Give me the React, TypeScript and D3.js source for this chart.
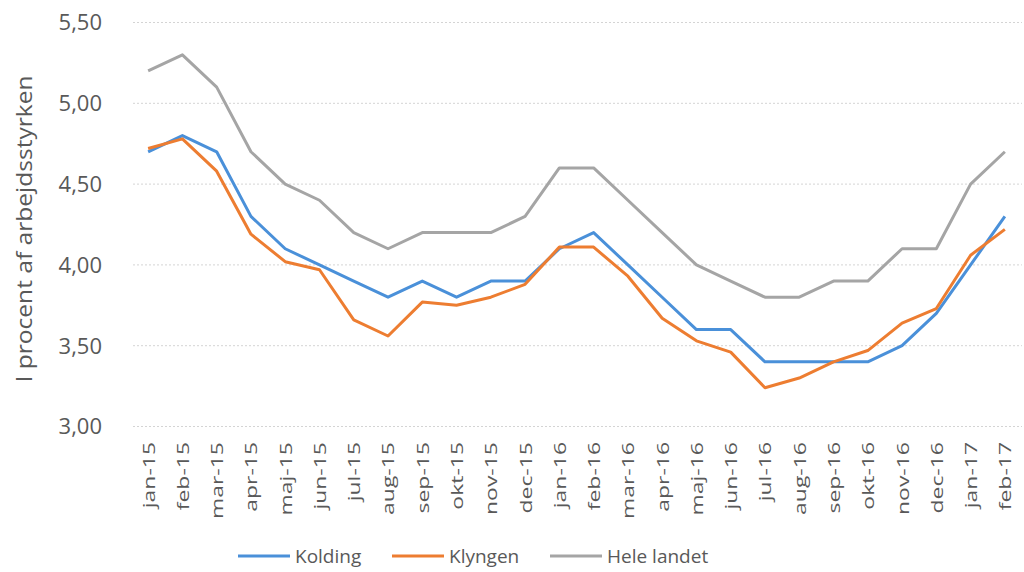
import React from "react";
import * as d3 from "d3";

const months = [
  "jan-15", "feb-15", "mar-15", "apr-15", "maj-15", "jun-15", "jul-15", "aug-15",
  "sep-15", "okt-15", "nov-15", "dec-15", "jan-16", "feb-16", "mar-16", "apr-16",
  "maj-16", "jun-16", "jul-16", "aug-16", "sep-16", "okt-16", "nov-16", "dec-16",
  "jan-17", "feb-17",
];

const kolding = [
  4.7, 4.8, 4.7, 4.3, 4.1, 4.0, 3.9, 3.8, 3.9, 3.8, 3.9, 3.9, 4.1,
  4.2, 4.0, 3.8, 3.6, 3.6, 3.4, 3.4, 3.4, 3.4, 3.5, 3.7, 4.0, 4.3,
];

const klyngen = [
  4.72, 4.78, 4.58, 4.19, 4.02, 3.97, 3.66, 3.56, 3.77, 3.75, 3.8, 3.88, 4.11,
  4.11, 3.93, 3.67, 3.53, 3.46, 3.24, 3.3, 3.4, 3.47, 3.64, 3.73, 4.06, 4.22,
];

const heleLandet = [
  5.2, 5.3, 5.1, 4.7, 4.5, 4.4, 4.2, 4.1, 4.2, 4.2, 4.2, 4.3, 4.6,
  4.6, 4.4, 4.2, 4.0, 3.9, 3.8, 3.8, 3.9, 3.9, 4.1, 4.1, 4.5, 4.7,
];

const yTicks = [3.0, 3.5, 4.0, 4.5, 5.0, 5.5];

const series = [
  { name: "Kolding", values: kolding, color: "#4a90d9" },
  { name: "Klyngen", values: klyngen, color: "#ed7d31" },
  { name: "Hele landet", values: heleLandet, color: "#a5a5a5" },
];

const W = 1024, H = 572;
const left = 131, right = 1022, top = 22.5, bottom = 426.5;
const font = "'Open Sans', sans-serif";
const textColor = "#595959";

export default function App() {
  const x = d3.scaleBand<string>().domain(months).range([left, right]);
  const y = d3.scaleLinear().domain([3, 5.5]).range([bottom, top]);
  const fmt = (v: number) => v.toFixed(2).replace(".", ",");

  const line = d3.line<number>()
    .x((_, i) => (x(months[i]) as number) + x.bandwidth() / 2)
    .y(d => y(d));

  const legendX = [238, 392, 550];

  return (
    <svg width={W} height={H} style={{ position: "absolute", left: 0, top: 0, background: "#fff" }}>
      {/* grid */}
      {yTicks.map(t => (
        <line key={t} x1={left + 2} x2={right} y1={y(t)} y2={y(t)}
          stroke="#d4d4d4" strokeWidth={1} strokeDasharray="2,2" />
      ))}
      {/* y tick labels */}
      {yTicks.map(t => (
        <text key={"l" + t} x={102} y={y(t)} dy="0.36em" textAnchor="end"
          fontFamily={font} fontSize={22} fill={textColor}>{fmt(t)}</text>
      ))}
      {/* y axis title (reference text is stretched along its length) */}
      <text transform={`translate(32,229) rotate(-90) scale(1.17,1)`} textAnchor="middle"
        fontFamily={font} fontSize={21} fill={textColor}>I procent af arbejdsstyrken</text>
      {/* x labels */}
      {months.map(m => (
        <text key={m}
          transform={`translate(${(x(m) as number) + x.bandwidth() / 2},442) rotate(-90) scale(1.35,1)`}
          dy="0.38em" textAnchor="end" fontFamily={font} fontSize={17} fill={textColor}>{m}</text>
      ))}
      {/* lines */}
      {series.map(s => (
        <path key={s.name} d={line(s.values) || ""} fill="none" stroke={s.color}
          strokeWidth={3} strokeLinejoin="round" />
      ))}
      {/* legend */}
      {series.map((s, i) => (
        <g key={"lg" + s.name}>
          <line x1={legendX[i]} x2={legendX[i] + 52} y1={556} y2={556} stroke={s.color} strokeWidth={3} />
          <text x={legendX[i] + 57} y={556} dy="0.36em" fontFamily={font} fontSize={19} fill={textColor}>{s.name}</text>
        </g>
      ))}
    </svg>
  );
}
